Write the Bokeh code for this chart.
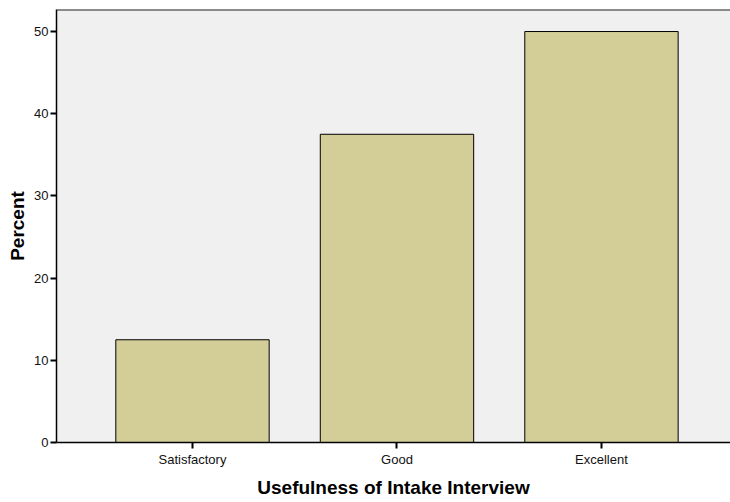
from bokeh.plotting import figure
from bokeh.models import Range1d, FixedTicker, Span
from bokeh.embed import file_html
from bokeh.resources import INLINE

categories = ["Satisfactory", "Good", "Excellent"]
percent = [12.5, 37.5, 50.0]
y_ticks = [0, 10, 20, 30, 40, 50]

xs = [i for i in range(len(categories))]

p = figure(width=730, height=502, output_backend="svg", toolbar_location=None,
           x_range=Range1d(-0.665, 2.631), y_range=Range1d(0, 52.68),
           min_border_left=56, min_border_right=0, min_border_top=9, min_border_bottom=60)

p.border_fill_color = "white"
p.outline_line_color = None
p.background_fill_color = "#F0F0F0"

p.vbar(x=xs, top=percent, width=0.75, bottom=0,
       fill_color="#D3CE98", line_color="black", line_width=1)

p.add_layout(Span(location=52.68, dimension="width", line_color="#222222", line_width=2))

p.xgrid.grid_line_color = None
p.ygrid.grid_line_color = None

p.xaxis.ticker = FixedTicker(ticks=xs)
p.xaxis.major_label_overrides = {i: c for i, c in enumerate(categories)}
p.yaxis.ticker = FixedTicker(ticks=y_ticks)

for ax in (p.xaxis, p.yaxis):
    ax.axis_line_color = "black"
    ax.axis_line_width = 1.5
    ax.major_tick_line_color = "black"
    ax.major_tick_line_width = 2
    ax.major_tick_out = 6
    ax.major_tick_in = 0
    ax.minor_tick_line_color = None
    ax.major_label_text_font = "Liberation Sans"
    ax.major_label_text_font_size = "13px"
    ax.major_label_text_color = "#111111"
    ax.axis_label_text_font = "Liberation Sans"
    ax.axis_label_text_font_size = "19px"
    ax.axis_label_text_font_style = "bold"
    ax.axis_label_text_color = "black"

p.xaxis.axis_label = "Usefulness of Intake Interview"
p.yaxis.axis_label = "Percent"
p.xaxis.major_label_standoff = 3
p.yaxis.major_label_standoff = 2
p.yaxis.axis_label_standoff = 3
p.xaxis.axis_label_standoff = 7

open("out.html", "w").write(file_html(p, INLINE))
